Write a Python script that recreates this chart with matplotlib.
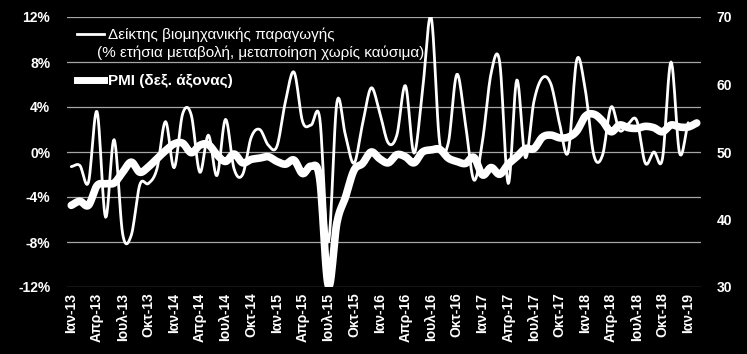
import numpy as np
import matplotlib
matplotlib.use("Agg")
import matplotlib.pyplot as plt
from matplotlib.lines import Line2D

plt.rcParams['font.family'] = ['Liberation Sans', 'DejaVu Sans']

# monthly labels Jan-13 .. Feb-19
month_names = ["Ιαν", "Φεβ", "Μαρ", "Απρ", "Μαϊ", "Ιουν", "Ιουλ", "Αυγ", "Σεπ", "Οκτ", "Νοε", "Δεκ"]
months = [f"{month_names[m]}-{y}" for y in range(13, 20) for m in range(12)][:74]

# industrial production, % y/y (Jan-13 .. Jan-19)
ip = [-1.3, -1.2, -2.7, 3.6, -5.8, 1.1, -7.3, -7.4, -2.9, -2.8, -1.5, 2.7,
      -1.4, 3.4, 3.3, -1.8, 1.5, -2.1, 2.9, -1.5, -2.0, 1.3, 2.0, 0.6,
      0.5, 4.5, 7.1, 2.7, 2.4, 3.0, -8.0, 4.4, 1.5, -1.0, 2.5, 5.7,
      3.5, 0.8, 1.5, 5.9, -0.1, 5.5, 12.0, 0.8, 0.8, 6.9, 2.5, -2.5,
      1.0, 7.0, 8.0, -2.8, 6.4, -0.5, 4.5, 6.6, 6.0, 2.5, 0.0, 8.2,
      5.5, -0.3, -0.3, 4.0, 1.9, 2.5, 2.8, -1.0, 0.0, -0.6, 8.0, -0.1,
      2.6]

# manufacturing PMI (Jan-13 .. Feb-19)
pmi = [42.1, 42.7, 42.1, 45.0, 45.3, 45.4, 47.0, 48.5, 47.0, 47.8, 49.0, 50.2,
       51.2, 51.3, 49.9, 51.0, 51.1, 49.6, 48.6, 49.7, 48.4, 48.9, 49.1, 49.3,
       48.6, 48.2, 48.8, 46.8, 47.9, 46.0, 30.2, 39.5, 43.3, 47.3, 48.3, 50.0,
       49.0, 48.4, 49.6, 49.3, 48.4, 50.0, 50.3, 50.4, 49.1, 48.6, 48.3, 49.2,
       46.6, 47.7, 46.7, 48.2, 49.3, 50.5, 50.5, 52.2, 52.5, 52.1, 52.2, 53.1,
       55.3, 55.6, 54.6, 53.0, 54.0, 53.6, 53.5, 53.8, 53.6, 53.0, 54.0, 53.7,
       53.7, 54.3]

left_ticks = [-12, -8, -4, 0, 4, 8, 12]
right_ticks = [30, 40, 50, 60, 70]


def smooth(y, n=12):
    # Catmull-Rom curve through the points (like Excel smoothed lines)
    y = np.asarray(y, float)
    x = np.arange(len(y), dtype=float)
    p = np.concatenate([[2 * y[0] - y[1]], y, [2 * y[-1] - y[-2]]])
    xs, ys = [], []
    t = np.linspace(0, 1, n, endpoint=False)
    for i in range(len(y) - 1):
        p0, p1, p2, p3 = p[i], p[i + 1], p[i + 2], p[i + 3]
        yy = 0.5 * ((2 * p1) + (-p0 + p2) * t + (2 * p0 - 5 * p1 + 4 * p2 - p3) * t ** 2
                    + (-p0 + 3 * p1 - 3 * p2 + p3) * t ** 3)
        xs.append(x[i] + t)
        ys.append(yy)
    xs.append([x[-1]])
    ys.append([y[-1]])
    return np.concatenate(xs), np.concatenate(ys)


fig = plt.figure(figsize=(7.47, 3.54), dpi=100, facecolor="black")
ax = fig.add_axes([67 / 747, 1 - 287 / 354, 634 / 747, 270 / 354])
ax.set_facecolor("black")
ax2 = ax.twinx()

for a in (ax, ax2):
    for s in a.spines.values():
        s.set_visible(False)

ax.set_ylim(-12, 12)
ax.set_yticks(left_ticks)
ax.set_yticklabels([f"{v}%" for v in left_ticks])
ax.grid(axis="y", color="#a6a6a6", linewidth=0.9)
ax.set_axisbelow(True)

ax2.set_ylim(30, 70)
ax2.set_yticks(right_ticks)

ax.set_xlim(-0.5, len(months) - 0.5)
xt = list(range(0, len(months), 3))
ax.set_xticks(xt)
ax.set_xticklabels([months[i] for i in xt], rotation=90)

ax.tick_params(axis="y", length=0, pad=12, colors="white", labelsize=10)
ax.tick_params(axis="x", length=0, pad=4, colors="white", labelsize=10)
ax2.tick_params(axis="y", length=0, pad=11, colors="white", labelsize=10)
for lab in ax.get_xticklabels() + ax.get_yticklabels() + ax2.get_yticklabels():
    lab.set_fontweight("bold")

xs, ys = smooth(ip)
ax.plot(xs, ys, color="white", lw=2.0, solid_capstyle="round", zorder=3)
xs, ys = smooth(pmi)
ax2.plot(xs, ys, color="white", lw=5.5, solid_capstyle="round", zorder=3)

handles = [Line2D([], [], color="white", lw=2.0), Line2D([], [], color="white", lw=5)]
leg = ax.legend(handles, ["Δείκτης βιομηχανικής παραγωγής", "PMI (δεξ. άξονας)"],
                loc="upper left", bbox_to_anchor=(0.006, 0.984), borderaxespad=0,
                frameon=False, fontsize=11, handlelength=1.75, handletextpad=0.3,
                labelspacing=2.1)
for t in leg.get_texts():
    t.set_color("white")
leg.get_texts()[1].set_fontweight("bold")
ax.text(0.047, 0.867, "(% ετήσια μεταβολή, μεταποίηση χωρίς καύσιμα)", transform=ax.transAxes,
        color="white", fontsize=11, va="center", ha="left")

fig.savefig("out.png", facecolor="black")
